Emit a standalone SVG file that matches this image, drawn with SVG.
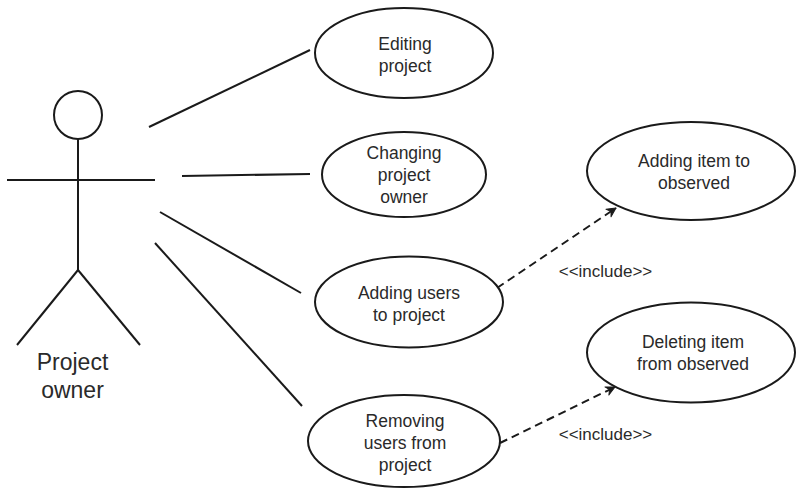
<svg xmlns="http://www.w3.org/2000/svg" width="796" height="490" viewBox="0 0 796 490">
<style>
.uc{fill:#fff;stroke:#1a1a1a;stroke-width:2}
.ln{stroke:#1a1a1a;stroke-width:2;fill:none}
.dash{stroke:#1a1a1a;stroke-width:2;fill:none;stroke-dasharray:8 5}
text{font-family:"Liberation Sans",Arial,sans-serif;fill:#2a2a2a;text-anchor:middle}
.t{font-size:17.5px}
.lbl{font-size:17px}
.act{font-size:23px}
</style>
<defs>
<marker id="arr" markerWidth="12" markerHeight="12" refX="10" refY="6" orient="auto" markerUnits="userSpaceOnUse">
<path d="M1,1.5 L10,6 L1,10.5 L4,6 Z" fill="#1a1a1a" stroke="#1a1a1a" stroke-width="1" stroke-linejoin="round"/>
</marker>
</defs>
<rect width="796" height="490" fill="#fff"/>
<g id="actor">
<circle cx="78" cy="115" r="24" class="ln"/>
<line x1="78" y1="139" x2="78" y2="270" class="ln"/>
<line x1="7" y1="180" x2="155" y2="180" class="ln"/>
<line x1="78" y1="270" x2="17" y2="345" class="ln"/>
<line x1="78" y1="270" x2="140" y2="345" class="ln"/>
<text class="act" x="72.5" y="370">Project</text>
<text class="act" x="72.5" y="398">owner</text>
</g>
<g id="connectors">
<line x1="149" y1="127" x2="310" y2="50" class="ln"/>
<line x1="182" y1="176" x2="310" y2="174" class="ln"/>
<line x1="160" y1="212" x2="301" y2="293" class="ln"/>
<line x1="155" y1="243" x2="302" y2="406" class="ln"/>
<line x1="497" y1="288" x2="616" y2="208" class="dash" marker-end="url(#arr)"/>
<line x1="500" y1="443" x2="615" y2="387" class="dash" marker-end="url(#arr)"/>
<text class="lbl" x="605.5" y="277">&lt;&lt;include&gt;&gt;</text>
<text class="lbl" x="605.5" y="440">&lt;&lt;include&gt;&gt;</text>
</g>
<g id="editing">
<ellipse cx="404" cy="53" rx="89" ry="45" class="uc"/>
<text class="t" x="405" y="50">Editing</text>
<text class="t" x="405" y="72">project</text>
</g>
<g id="changing">
<ellipse cx="404" cy="174.5" rx="82" ry="42.5" class="uc"/>
<text class="t" x="404" y="159">Changing</text>
<text class="t" x="404" y="181">project</text>
<text class="t" x="404" y="203">owner</text>
</g>
<g id="addingUsers">
<ellipse cx="409" cy="302" rx="94" ry="45.5" class="uc"/>
<text class="t" x="409" y="299">Adding users</text>
<text class="t" x="409" y="321">to project</text>
</g>
<g id="removingUsers">
<ellipse cx="404" cy="441" rx="96" ry="46" class="uc"/>
<text class="t" x="405" y="427">Removing</text>
<text class="t" x="405" y="449">users from</text>
<text class="t" x="405" y="471">project</text>
</g>
<g id="addingItem">
<ellipse cx="691" cy="171" rx="104" ry="49" class="uc"/>
<text class="t" x="694" y="167">Adding item to</text>
<text class="t" x="694" y="189">observed</text>
</g>
<g id="deletingItem">
<ellipse cx="691" cy="352.5" rx="104" ry="50" class="uc"/>
<text class="t" x="693" y="348">Deleting item</text>
<text class="t" x="693" y="370">from observed</text>
</g>
</svg>
